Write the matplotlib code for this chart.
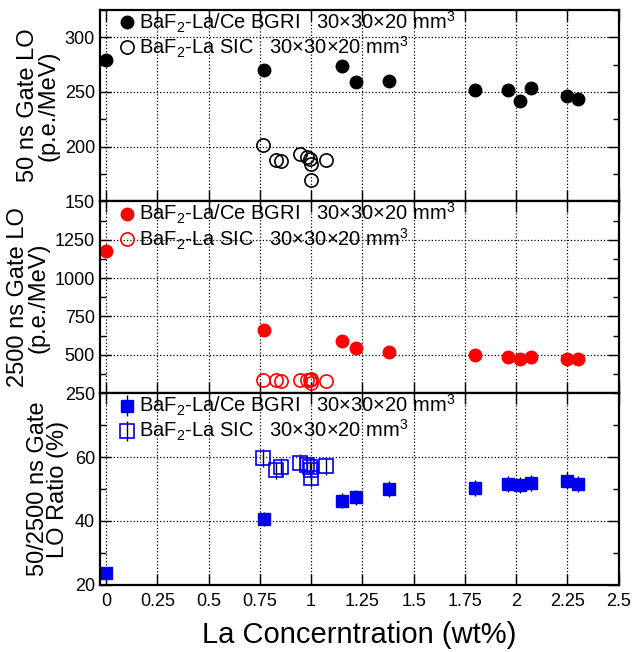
import numpy as np
import matplotlib.pyplot as plt
from matplotlib.ticker import MultipleLocator

plt.rcParams['font.family'] = ['Liberation Sans', 'DejaVu Sans']
plt.rcParams['mathtext.fontset'] = 'custom'
plt.rcParams['mathtext.rm'] = 'Liberation Sans'
plt.rcParams['mathtext.it'] = 'Liberation Sans'

# BGRI (La/Ce) samples
x_bgri = [0.0, 0.77, 1.15, 1.22, 1.38, 1.80, 1.96, 2.02, 2.07, 2.25, 2.30]
lo50_bgri = [279, 270, 274, 259, 260, 252, 252, 242, 254, 246, 244]
lo2500_bgri = [1175, 662, 592, 545, 519, 502, 489, 470, 489, 470, 475]
ratio_bgri = [23.6, 40.7, 46.3, 47.4, 50.0, 50.4, 51.6, 51.4, 51.9, 52.6, 51.5]
err_bgri = [2.0, 2.2, 2.4, 2.4, 2.5, 2.5, 2.5, 2.5, 2.5, 2.6, 2.5]

# SIC (La) samples
x_sic = [0.765, 0.83, 0.855, 0.945, 0.98, 0.995, 1.0, 1.0, 1.075]
lo50_sic = [202, 188, 187, 193, 191, 189, 184, 170, 188]
lo2500_sic = [338, 335, 328, 333, 336, 333, 340, 318, 330]
ratio_sic = [59.8, 55.9, 57.0, 58.0, 57.4, 56.9, 55.9, 53.3, 57.1]
err_sic = [2.8, 2.7, 2.7, 2.8, 2.8, 2.8, 2.7, 2.6, 2.8]

lab_bgri = r'BaF$_2$-La/Ce BGRI   30$\times$30$\times$20 mm$^3$'
lab_sic = r'BaF$_2$-La SIC   30$\times$30$\times$20 mm$^3$'

fig = plt.figure(figsize=(6.32, 6.52), dpi=100)
h = (0.985 - 0.103) / 3
axs = [fig.add_axes([0.158, 0.103 + (2 - i) * h, 0.821, h]) for i in range(3)]

red = '#ff0000'
blue = '#0000ee'

ax = axs[0]
ax.plot(x_bgri, lo50_bgri, 'o', color='k', ms=9, label=lab_bgri)
ax.plot(x_sic, lo50_sic, 'o', mfc='none', mec='k', mew=1.2, ms=9.5, label=lab_sic)
ax.set_ylim(150, 325)
ax.set_yticks([150, 200, 250, 300])
ax.yaxis.set_minor_locator(MultipleLocator(25))
ax.set_ylabel('50 ns Gate LO\n(p.e./MeV)', fontsize=17, linespacing=0.9)

ax = axs[1]
ax.plot(x_bgri, lo2500_bgri, 'o', color=red, ms=9, label=lab_bgri)
ax.plot(x_sic, lo2500_sic, 'o', mfc='none', mec=red, mew=1.2, ms=9.5, label=lab_sic)
ax.set_ylim(250, 1500)
ax.set_yticks([250, 500, 750, 1000, 1250])
ax.yaxis.set_minor_locator(MultipleLocator(125))
ax.set_ylabel('2500 ns Gate LO\n(p.e./MeV)', fontsize=17, linespacing=0.9)

ax = axs[2]
ax.errorbar(x_bgri, ratio_bgri, yerr=err_bgri, fmt='s', color=blue, ms=9,
            ecolor='k', elinewidth=1, capsize=0, label=lab_bgri)
ax.errorbar(x_sic, ratio_sic, yerr=err_sic, fmt='s', mfc='none', mec=blue, mew=1.2,
            ms=10, ecolor='k', elinewidth=1, capsize=0, label=lab_sic)
ax.set_ylim(20, 80)
ax.set_yticks([20, 40, 60])
ax.yaxis.set_minor_locator(MultipleLocator(10))
ax.set_ylabel('50/2500 ns Gate\nLO Ratio (%)', fontsize=17, linespacing=0.9)
ax.set_xlabel('La Concerntration (wt%)', fontsize=21, labelpad=8)

xt = np.arange(0, 2.51, 0.25)
for i, ax in enumerate(axs):
    ax.set_xlim(-0.03, 2.5)
    ax.set_xticks(xt)
    if i < 2:
        ax.tick_params(labelbottom=False)
    else:
        ax.set_xticklabels(['0', '0.25', '0.5', '0.75', '1', '1.25', '1.5', '1.75', '2', '2.25', '2.5'])
    ax.grid(True, which='major', ls=':', color='k', lw=0.9)
    ax.tick_params(which='both', direction='in', top=True, right=True, labelsize=13)
    ax.tick_params(axis='x', pad=6)
    ax.tick_params(which='major', length=8, width=1)
    ax.tick_params(which='minor', length=4, width=1)
    for s in ax.spines.values():
        s.set_linewidth(1.6)
    ax.legend(loc='upper left', bbox_to_anchor=(0.01, 1.075), frameon=False, fontsize=14.5,
              handlelength=0.8, handletextpad=0.2, labelspacing=0.0, borderaxespad=0.3)

fig.savefig('out.png', dpi=100)
